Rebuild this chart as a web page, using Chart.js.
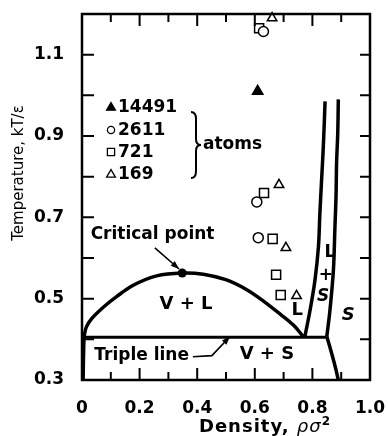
<!DOCTYPE html>
<html>
<head>
<meta charset="utf-8">
<script src="https://cdn.jsdelivr.net/npm/chart.js@4.4.1/dist/chart.umd.min.js"></script>
<style>
  html, body { margin: 0; padding: 0; background: #fff; }
  #wrap { width: 388px; height: 436px; }
</style>
</head>
<body>
<div id="wrap"><canvas id="c" width="388" height="436"></canvas></div>
<script>
// Simulation results for different system sizes (density, temperature)
const atoms14491 = [{x: 0.61, y: 1.01}];
const atoms2611 = [{x: 0.63, y: 1.157}, {x: 0.607, y: 0.738}, {x: 0.612, y: 0.65}];
const atoms721 = [{x: 0.615, y: 1.165}, {x: 0.632, y: 0.76}, {x: 0.662, y: 0.647}, {x: 0.674, y: 0.559}, {x: 0.69, y: 0.509}];
const atoms169 = [{x: 0.66, y: 1.19}, {x: 0.684, y: 0.78}, {x: 0.708, y: 0.625}, {x: 0.745, y: 0.507}];
const systemSizes = ['14491', '2611', '721', '169'];

// Phase boundaries
const criticalPoint = {x: 0.348, y: 0.563};
const vaporTail = [{x: 0.004, y: 0.30}, {x: 0.005, y: 0.35}, {x: 0.007, y: 0.407}];
const vaporLiquidDome = [
  {x: 0.007, y: 0.407}, {x: 0.015, y: 0.43}, {x: 0.035, y: 0.452}, {x: 0.074, y: 0.479},
  {x: 0.12, y: 0.505}, {x: 0.178, y: 0.533}, {x: 0.259, y: 0.556}, criticalPoint,
  {x: 0.421, y: 0.560}, {x: 0.502, y: 0.546}, {x: 0.572, y: 0.522}, {x: 0.63, y: 0.494},
  {x: 0.688, y: 0.462}, {x: 0.734, y: 0.435}, {x: 0.768, y: 0.407}
];
const freezingLine = [
  {x: 0.774, y: 0.407}, {x: 0.792, y: 0.472}, {x: 0.809, y: 0.546}, {x: 0.821, y: 0.628},
  {x: 0.826, y: 0.71}, {x: 0.832, y: 0.793}, {x: 0.838, y: 0.875}, {x: 0.844, y: 0.985}
];
const meltingLineUpper = [
  {x: 0.85, y: 0.407}, {x: 0.861, y: 0.472}, {x: 0.873, y: 0.571}, {x: 0.878, y: 0.67},
  {x: 0.882, y: 0.751}, {x: 0.884, y: 0.834}, {x: 0.888, y: 0.907}, {x: 0.89, y: 0.99}
];
const meltingLineLower = [{x: 0.85, y: 0.407}, {x: 0.867, y: 0.365}, {x: 0.882, y: 0.325}, {x: 0.89, y: 0.30}];
const tripleLine = [{x: 0.0, y: 0.405}, {x: 0.85, y: 0.405}];

// Axis tick labels
const xTickValues = [0, 0.2, 0.4, 0.6, 0.8, 1.0];
const xTickLabels = ['0', '0.2', '0.4', '0.6', '0.8', '1.0'];
const yTickValues = [0.3, 0.5, 0.7, 0.9, 1.1];
const yTickLabels = ['0.3', '0.5', '0.7', '0.9', '1.1'];

const BOLD = 'bold 17px "DejaVu Sans"';

function labelFor(values, labels, v) {
  for (let i = 0; i < values.length; i++) if (Math.abs(values[i] - v) < 1e-6) return labels[i];
  return '';
}

function boundary(data, width) {
  return {data, showLine: true, borderColor: '#000', borderWidth: width, pointRadius: 0,
          tension: 0.35, fill: false, borderCapStyle: 'butt', borderJoinStyle: 'round'};
}
function markers(data, style, radius, filled) {
  return {data, showLine: false, pointStyle: style, pointRadius: radius, pointHoverRadius: radius,
          pointBorderWidth: 1.5, pointBorderColor: '#000',
          pointBackgroundColor: filled ? '#000' : '#fff', clip: false};
}

function symbol(ctx, style, x, y, r, filled) {
  ctx.save();
  ctx.lineWidth = 1.3; ctx.strokeStyle = '#000'; ctx.fillStyle = filled ? '#000' : '#fff';
  ctx.beginPath();
  if (style === 'circle') ctx.arc(x, y, r, 0, Math.PI * 2);
  else if (style === 'rect') ctx.rect(x - r, y - r, 2 * r, 2 * r);
  else { ctx.moveTo(x, y - r * 1.05); ctx.lineTo(x + r * 1.05, y + r * 0.75); ctx.lineTo(x - r * 1.05, y + r * 0.75); ctx.closePath(); }
  ctx.fill(); ctx.stroke();
  ctx.restore();
}

function arrow(ctx, pts, head) {
  ctx.save();
  ctx.strokeStyle = '#000'; ctx.fillStyle = '#000'; ctx.lineWidth = 1.6;
  ctx.beginPath();
  ctx.moveTo(pts[0][0], pts[0][1]);
  for (let i = 1; i < pts.length; i++) ctx.lineTo(pts[i][0], pts[i][1]);
  ctx.stroke();
  const [x1, y1] = pts[pts.length - 2], [x2, y2] = pts[pts.length - 1];
  const a = Math.atan2(y2 - y1, x2 - x1);
  ctx.beginPath();
  ctx.moveTo(x2, y2);
  ctx.lineTo(x2 - head * Math.cos(a - 0.35), y2 - head * Math.sin(a - 0.35));
  ctx.lineTo(x2 - head * Math.cos(a + 0.35), y2 - head * Math.sin(a + 0.35));
  ctx.closePath(); ctx.fill();
  ctx.restore();
}

const decorations = {
  id: 'decorations',
  afterDraw(chart) {
    const ctx = chart.ctx, xs = chart.scales.x, ys = chart.scales.y, a = chart.chartArea;
    const X = v => xs.getPixelForValue(v), Y = v => ys.getPixelForValue(v);
    ctx.save();

    // Frame
    ctx.strokeStyle = '#000'; ctx.lineWidth = 2.5;
    ctx.strokeRect(a.left, a.top, a.right - a.left, a.bottom - a.top);

    // Inward ticks on all four sides
    ctx.lineWidth = 2;
    ctx.beginPath();
    xs.ticks.forEach(t => {
      const px = X(t.value), major = labelFor(xTickValues, xTickLabels, t.value) !== '';
      const len = major ? 12 : 8;
      ctx.moveTo(px, a.bottom); ctx.lineTo(px, a.bottom - len);
      ctx.moveTo(px, a.top); ctx.lineTo(px, a.top + len);
    });
    ys.ticks.forEach(t => {
      const py = Y(t.value);
      ctx.moveTo(a.left, py); ctx.lineTo(a.left + 12, py);
      ctx.moveTo(a.right, py); ctx.lineTo(a.right - 10, py);
    });
    ctx.stroke();

    // Critical point
    ctx.fillStyle = '#000';
    ctx.beginPath(); ctx.arc(X(criticalPoint.x), Y(criticalPoint.y), 4.5, 0, Math.PI * 2); ctx.fill();

    // Region labels
    ctx.textAlign = 'center'; ctx.textBaseline = 'middle'; ctx.fillStyle = '#000';
    ctx.font = 'bold 18px "DejaVu Sans"';
    ctx.fillText('V + L', X(0.361), Y(0.485));
    ctx.fillText('V + S', X(0.642), Y(0.364));
    ctx.fillText('L', X(0.747), Y(0.472));
    ctx.font = 'bold 17px "DejaVu Sans"';
    ctx.fillText('L', X(0.861), Y(0.613));
    ctx.fillText('+', X(0.847), Y(0.556));
    ctx.font = 'italic bold 17px "DejaVu Sans"';
    ctx.fillText('S', X(0.837), Y(0.504));
    ctx.font = 'italic bold 18px "DejaVu Sans"';
    ctx.fillText('S', X(0.924), Y(0.458));

    ctx.font = BOLD;
    ctx.fillText('Critical point', X(0.245), Y(0.657));
    ctx.fillText('Triple line', X(0.207), Y(0.359));

    // Annotation arrows
    arrow(ctx, [[X(0.253), Y(0.625)], [X(0.337), Y(0.573)]], 9);
    arrow(ctx, [[X(0.385), Y(0.357)], [X(0.451), Y(0.360)], [X(0.514), Y(0.407)]], 9);

    // System-size key
    const styles = [['triangle', true], ['circle', false], ['rect', false], ['triangle', false]];
    const rows = [107, 130, 152, 174];
    ctx.textAlign = 'left';
    systemSizes.forEach((s, i) => {
      const sz = styles[i][0] === 'circle' ? 3.6 : (styles[i][0] === 'rect' ? 3.6 : 4.2);
      symbol(ctx, styles[i][0], 111, rows[i], sz, styles[i][1]);
      ctx.font = BOLD;
      ctx.fillText(s, 118, rows[i] + 1);
    });
    // Brace grouping the sizes
    ctx.lineWidth = 2; ctx.strokeStyle = '#000';
    ctx.beginPath();
    const x0 = 191, xm = 196, xp = 201, yt = 112, ym = 145, yb = 178;
    ctx.moveTo(x0, yt);
    ctx.quadraticCurveTo(xm, yt, xm, yt + 7);
    ctx.lineTo(xm, ym - 6);
    ctx.quadraticCurveTo(xm, ym, xp, ym);
    ctx.quadraticCurveTo(xm, ym, xm, ym + 6);
    ctx.lineTo(xm, yb - 7);
    ctx.quadraticCurveTo(xm, yb, x0, yb);
    ctx.stroke();
    ctx.font = BOLD;
    ctx.fillText('atoms', 203, 145);

    // Axis titles
    ctx.textBaseline = 'alphabetic';
    const parts = [
      ['Density, ', 'bold 18px "DejaVu Sans"', 0],
      ['\u03C1\u03C3', 'italic 18px "DejaVu Sans"', 0],
      ['2', 'bold 12px "DejaVu Sans"', -7]
    ];
    ctx.letterSpacing = '1px';
    let total = 0;
    parts.forEach(p => { ctx.font = p[1]; total += ctx.measureText(p[0]).width; });
    let cx = 265 - total / 2;
    parts.forEach(p => { ctx.font = p[1]; ctx.fillText(p[0], cx, 432 + p[2]); cx += ctx.measureText(p[0]).width; });
    ctx.letterSpacing = '0px';

    ctx.translate(19, 173);
    ctx.rotate(-Math.PI / 2);
    ctx.textAlign = 'center'; ctx.textBaseline = 'middle';
    ctx.font = '500 15px "DejaVu Sans"';
    ctx.fillText('Temperature, kT/\u03B5', 0, 0);

    ctx.restore();
  }
};

new Chart(document.getElementById('c'), {
  type: 'scatter',
  data: {
    datasets: [
      boundary(vaporTail, 3.5),
      boundary(vaporLiquidDome, 3.5),
      boundary(freezingLine, 3.5),
      boundary(meltingLineUpper, 3.5),
      boundary(meltingLineLower, 3.5),
      Object.assign(boundary(tripleLine, 3), {tension: 0}),
      markers(atoms14491, 'triangle', 6, true),
      markers(atoms2611, 'circle', 5, false),
      markers(atoms721, 'rect', 6.4, false),
      markers(atoms169, 'triangle', 5.5, false)
    ]
  },
  options: {
    responsive: false,
    animation: false,
    events: [],
    layout: {padding: {top: 14, right: 18, left: 0, bottom: 0}},
    plugins: {legend: {display: false}, tooltip: {enabled: false}},
    scales: {
      x: {
        type: 'linear', min: 0, max: 1.0,
        grid: {display: false}, border: {display: false},
        afterFit: s => { s.height = 56; s.paddingLeft = 0; s.paddingRight = 0; },
        ticks: {
          stepSize: 0.1, autoSkip: false, maxRotation: 0, padding: 10, color: '#000',
          font: {family: 'DejaVu Sans', weight: 'bold', size: 17},
          callback: v => labelFor(xTickValues, xTickLabels, v)
        }
      },
      y: {
        type: 'linear', min: 0.3, max: 1.2,
        grid: {display: false}, border: {display: false},
        afterFit: s => { s.width = 82; s.paddingTop = 0; s.paddingBottom = 0; },
        ticks: {
          stepSize: 0.1, autoSkip: false, padding: 10, color: '#000',
          font: {family: 'DejaVu Sans', weight: 'bold', size: 17},
          callback: v => labelFor(yTickValues, yTickLabels, v)
        }
      }
    }
  },
  plugins: [decorations]
});
</script>
</body>
</html>
